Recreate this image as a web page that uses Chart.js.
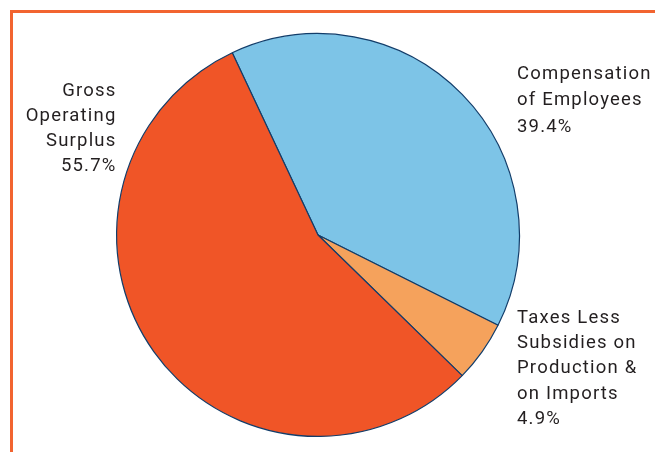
<!DOCTYPE html>
<html>
<head>
<meta charset="utf-8">
<script src="https://cdn.jsdelivr.net/npm/chart.js@4.4.0/dist/chart.umd.min.js"></script>
<style>
    html, body { margin: 0; padding: 0; background: #fff; }
    #wrap { position: relative; width: 655px; height: 452px; overflow: hidden; }
    #frame {
        position: absolute; left: 10px; top: 10px; width: 700px; height: 500px;
        border-left: 3px solid #f26430; border-top: 3px solid #f26430;
    }
    canvas { position: absolute; left: 0; top: 0; }
</style>
</head>
<body>
<div id="wrap">
    <div id="frame"></div>
    <canvas id="pie" width="655" height="452"></canvas>
</div>
<script>
const categories = ['Compensation of Employees', 'Taxes Less Subsidies on Production & on Imports', 'Gross Operating Surplus'];
const shares = [39.4, 4.9, 55.7];
const sliceColors = ['#7dc4e7', '#f5a25c', '#f05527'];

// text blocks beside the pie, one line per entry
const labelLines = [
    ['Compensation', 'of Employees', '39.4%'],
    ['Taxes Less', 'Subsidies on', 'Production &', 'on Imports', '4.9%'],
    ['Gross', 'Operating', 'Surplus', '55.7%']
];

const sideLabels = {
    id: 'sideLabels',
    afterDraw(chart) {
        const ctx = chart.ctx;
        ctx.save();
        ctx.font = '18.5px Roboto, "DejaVu Sans", sans-serif';
        ctx.letterSpacing = '1.2px';
        ctx.fillStyle = '#231f20';
        ctx.textBaseline = 'middle';

        ctx.textAlign = 'left';
        labelLines[0].forEach((t, i) => ctx.fillText(t, 517, 74 + i * 26.5));
        labelLines[1].forEach((t, i) => ctx.fillText(t, 517, 318 + i * 25.3));

        ctx.textAlign = 'right';
        labelLines[2].forEach((t, i) => ctx.fillText(t, 116.5, 91 + i * 25));
        ctx.restore();
    }
};

new Chart(document.getElementById('pie'), {
    type: 'pie',
    data: {
        labels: categories,
        datasets: [{
            data: shares,
            backgroundColor: sliceColors,
            borderColor: '#123d6a',
            borderWidth: 1.2
        }]
    },
    options: {
        responsive: false,
        animation: false,
        rotation: -25.2,
        layout: {
            padding: { left: 116, right: 135, top: 33, bottom: 15 }
        },
        plugins: {
            legend: { display: false },
            tooltip: { enabled: false }
        }
    },
    plugins: [sideLabels]
});
</script>
</body>
</html>
